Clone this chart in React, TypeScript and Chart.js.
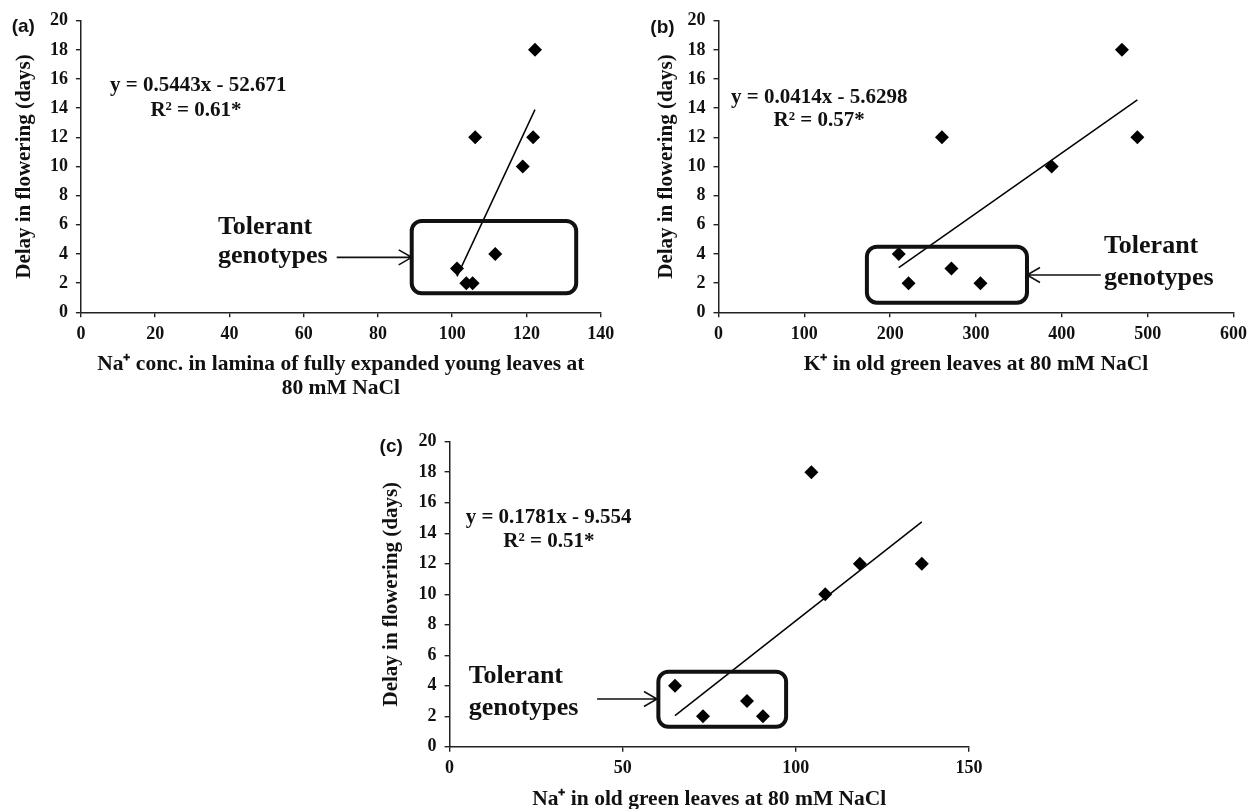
import React, { useEffect, useRef } from "react";
import { Chart, registerables } from "chart.js";

Chart.register(...registerables);

// ---------------- data ----------------
const naYoungLamina = [122.3, 106.2, 121.8, 119.0, 111.6, 101.3, 103.8, 105.5];
const delayA = [18, 12, 12, 10, 4, 3, 2, 2];

const kOldLeaves = [470, 260.3, 488, 388.2, 210, 221.4, 271.4, 305.2];
const delayB = [18, 12, 12, 10, 4, 2, 3, 2];

const naOldLeaves = [104.5, 118.5, 136.4, 108.5, 65.1, 73.2, 85.9, 90.5];
const delayC = [18, 12, 12, 10, 4, 2, 3, 2];

const trendSlopes = [0.5443, 0.0414, 0.1781];
const trendIntercepts = [-52.671, -5.6298, -9.554];
const equationLabels = ["y = 0.5443x - 52.671", "y = 0.0414x - 5.6298", "y = 0.1781x - 9.554"];
const r2Labels = ["R² = 0.61*", "R² = 0.57*", "R² = 0.51*"];

const xAxisMax = [140, 600, 150];
const xTickStep = [20, 100, 50];
const yAxisMax = 20;
const yTickStep = 2;

const panelLabels = ["(a)", "(b)", "(c)"];
const xTitles: (string | string[])[] = [
  ["Na⁺ conc. in lamina of fully expanded young leaves at", "80 mM NaCl"],
  "K⁺ in old green leaves at 80 mM NaCl",
  "Na⁺ in old green leaves at 80 mM NaCl",
];
const yTitle = "Delay in flowering (days)";
const calloutLines = ["Tolerant", "genotypes"];

// ---------------- layout (positions in data units / pixels) ----------------
const SERIF = "'Liberation Serif', 'Times New Roman', serif";
const SANS = "'Liberation Sans', Arial, sans-serif";
const INK = "#111";

type Layout = {
  left: number; top: number; w: number; h: number;
  yWidth: number; padTop: number; padRight: number; xHeight: number;
  yTitlePad: number; xTitlePadBottom: number; xTitleLH: number;
  label: [number, number];
  eq: [number, number]; r2: [number, number];
  box: [number, number, number, number];
  arrow: [number, number, number];
  callout: [number, number, number];
};

const layouts: Layout[] = [
  {
    left: 0, top: 0, w: 640, h: 400,
    yWidth: 80.9, padTop: 20.7, padRight: 39.3, xHeight: 87.7,
    yTitlePad: 12.1, xTitlePadBottom: 0, xTitleLH: 1.11,
    label: [-69.2, 11.3],
    eq: [31.6, 15.2], r2: [31.0, 13.46],
    box: [89.1, 133.4, 1.3, 6.26],
    arrow: [68.9, 89.1, 3.77],
    callout: [36.9, 5.4, 3.35],
  },
  {
    left: 640, top: 0, w: 613, h: 400,
    yWidth: 78.5, padTop: 20.7, padRight: 14.5, xHeight: 87.7,
    yTitlePad: 13.8, xTitlePadBottom: 23.35, xTitleLH: 1.11,
    label: [-68.2, 12],
    eq: [117.3, 14.33], r2: [117.3, 12.78],
    box: [172.9, 359.4, 0.66, 4.5],
    arrow: [445.4, 359.4, 2.56],
    callout: [449, 4.05, 1.87],
  },
  {
    left: 370, top: 390, w: 620, h: 419,
    yWidth: 79.6, padTop: 51.7, padRight: 21.1, xHeight: 62.3,
    yTitlePad: 9.4, xTitlePadBottom: 0.1, xTitleLH: 0.85,
    label: [-70, 10],
    eq: [28.6, 14.69], r2: [28.7, 13.11],
    box: [60.3, 97.2, 1.31, 4.92],
    arrow: [42.6, 59.9, 3.13],
    callout: [5.5, 4.16, 2.08],
  },
];

const xValues = [naYoungLamina, kOldLeaves, naOldLeaves];
const yValues = [delayA, delayB, delayC];

// ---------------- annotation plugin ----------------
const annotPlugin = {
  id: "annot",
  afterDatasetsDraw(chart: any, _args: any, opts: any) {
    const { ctx, chartArea, scales } = chart;
    const L: Layout = opts.layout;
    const i: number = opts.index;
    const xs = scales.x, ys = scales.y;
    const px = (v: number) => xs.getPixelForValue(v);
    const py = (v: number) => ys.getPixelForValue(v);
    ctx.save();
    ctx.fillStyle = INK;
    ctx.strokeStyle = INK;

    // panel label
    ctx.font = `bold 19px ${SANS}`;
    ctx.textAlign = "left";
    ctx.textBaseline = "alphabetic";
    ctx.fillText(panelLabels[i], chartArea.left + L.label[0], chartArea.top + L.label[1]);

    // equation + R²
    ctx.font = `bold 21px ${SERIF}`;
    ctx.textAlign = "center";
    ctx.fillText(equationLabels[i], px(L.eq[0]), py(L.eq[1]));
    ctx.fillText(r2Labels[i], px(L.r2[0]), py(L.r2[1]));

    // rounded box
    const [bx1, bx2, by1, by2] = L.box;
    ctx.lineWidth = 4;
    ctx.beginPath();
    const x1 = px(bx1), x2 = px(bx2), y1 = py(by2), y2 = py(by1);
    (ctx as any).roundRect(x1, y1, x2 - x1, y2 - y1, 10);
    ctx.stroke();

    // arrow
    const [ax1, ax2, ay] = L.arrow;
    const sx = px(ax1), ex = px(ax2), yy = py(ay);
    const dir = ex > sx ? 1 : -1;
    ctx.lineWidth = 1.6;
    ctx.beginPath();
    ctx.moveTo(sx, yy);
    ctx.lineTo(ex, yy);
    ctx.moveTo(ex - dir * 13, yy - 7.5);
    ctx.lineTo(ex, yy);
    ctx.lineTo(ex - dir * 13, yy + 7.5);
    ctx.stroke();

    // callout text
    ctx.font = `bold 26px ${SERIF}`;
    ctx.textAlign = "left";
    ctx.fillText(calloutLines[0], px(L.callout[0]), py(L.callout[1]));
    ctx.fillText(calloutLines[1], px(L.callout[0]), py(L.callout[2]));
    ctx.restore();
  },
};

function Panel({ index }: { index: number }) {
  const ref = useRef<HTMLCanvasElement>(null);
  const L = layouts[index];
  useEffect(() => {
    const xs = xValues[index];
    const ys = yValues[index];
    const points = xs.map((x, k) => ({ x, y: ys[k] }));
    const xmin = Math.min(...xs);
    const xmax = Math.max(...xs);
    const m = trendSlopes[index];
    const b = trendIntercepts[index];
    const trend = [
      { x: xmin, y: m * xmin + b },
      { x: xmax, y: m * xmax + b },
    ];
    const tickFont = { family: SERIF, size: 18, weight: "bold" as const };
    const chart = new Chart(ref.current as HTMLCanvasElement, {
      type: "scatter",
      data: {
        datasets: [
          {
            data: points,
            pointStyle: "rectRot",
            pointRadius: 7,
            pointHoverRadius: 7,
            backgroundColor: "#000",
            borderColor: "#000",
            borderWidth: 0,
          },
          {
            data: trend,
            showLine: true,
            pointRadius: 0,
            borderColor: "#000",
            borderWidth: 1.5,
            fill: false,
          } as any,
        ],
      },
      options: {
        responsive: false,
        animation: false,
        devicePixelRatio: 1,
        layout: { padding: { left: 0, top: L.padTop, right: L.padRight, bottom: 0 } },
        plugins: {
          legend: { display: false },
          tooltip: { enabled: false },
          annot: { layout: L, index },
        } as any,
        scales: {
          x: {
            type: "linear",
            min: 0,
            max: xAxisMax[index],
            ticks: {
              stepSize: xTickStep[index],
              font: tickFont,
              color: INK,
              padding: 6,
              maxRotation: 0,
              autoSkip: false,
            },
            grid: {
              display: true,
              drawOnChartArea: false,
              drawTicks: true,
              tickLength: 5,
              color: "#222",
              lineWidth: 1.4,
            },
            border: { display: true, color: "#222", width: 1.5 },
            title: {
              display: true,
              text: xTitles[index] as any,
              color: INK,
              font: { family: SERIF, size: 21.5, weight: "bold", lineHeight: L.xTitleLH },
              padding: { top: 0, bottom: L.xTitlePadBottom },
            },
            afterFit: (s: any) => {
              s.height = L.xHeight;
            },
          },
          y: {
            type: "linear",
            min: 0,
            max: yAxisMax,
            ticks: {
              stepSize: yTickStep,
              font: tickFont,
              color: INK,
              padding: 8,
            },
            grid: {
              display: true,
              drawOnChartArea: false,
              drawTicks: true,
              tickLength: 5,
              color: "#222",
              lineWidth: 1.4,
            },
            border: { display: true, color: "#222", width: 1.5 },
            title: {
              display: true,
              text: yTitle,
              color: INK,
              font: { family: SERIF, size: 21, weight: "bold", lineHeight: 1.2 },
              padding: { top: L.yTitlePad, bottom: 0 },
            },
            afterFit: (s: any) => {
              s.width = L.yWidth;
            },
          },
        },
      },
      plugins: [annotPlugin as any],
    });
    return () => chart.destroy();
  }, [index]);
  return (
    <canvas
      ref={ref}
      width={L.w}
      height={L.h}
      style={{ position: "absolute", left: L.left, top: L.top, width: L.w, height: L.h }}
    />
  );
}

export default function App() {
  return (
    <div
      style={{
        position: "absolute",
        left: 0,
        top: 0,
        width: 1253,
        height: 809,
        background: "#fff",
        overflow: "hidden",
      }}
    >
      <Panel index={0} />
      <Panel index={1} />
      <Panel index={2} />
    </div>
  );
}
